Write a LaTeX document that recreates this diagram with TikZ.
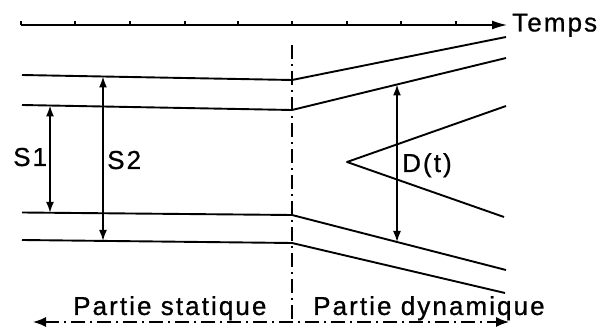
\documentclass[tikz,border=0pt]{standalone}
\usepackage{fontspec}
\setmainfont{Liberation Sans}[LetterSpace=8, FakeBold=0.8]
\usetikzlibrary{arrows.meta}
\begin{document}
\begin{tikzpicture}[x=1pt,y=-1pt,
  thick line/.style={line width=1.9pt, line join=round},
  axisline/.style={line width=1.4pt},
  dimarrow/.style={line width=1.6pt, {Latex[length=11pt,width=8pt]}-{Latex[length=11pt,width=8pt]}},
  dashdot/.style={line width=1.5pt, dash pattern=on 14pt off 5pt on 2pt off 5pt},
  lbl/.style={inner sep=0pt, anchor=base west, font=\fontsize{26}{30}\selectfont}]
\useasboundingbox (0,0) rectangle (602,328);
% coordinates
\coordinate (ax0) at (21,25);
\coordinate (ax1) at (507,25);
\coordinate (uo0) at (22,75);   \coordinate (uok) at (292,80);  \coordinate (uo1) at (506,37);
\coordinate (ui0) at (22,105);  \coordinate (uik) at (292,110); \coordinate (ui1) at (506,58);
\coordinate (li0) at (22,212.5);\coordinate (lik) at (292,215); \coordinate (li1) at (506,270);
\coordinate (lo0) at (22,240);  \coordinate (lok) at (292,243); \coordinate (lo1) at (505,293);
\coordinate (w1) at (506,106); \coordinate (wa) at (347,162); \coordinate (w2) at (504,217);
\coordinate (s1t) at (50,105.5); \coordinate (s1b) at (50,212.8);
\coordinate (s2t) at (103,76.5); \coordinate (s2b) at (103,240.9);
\coordinate (dtt) at (397,84.5); \coordinate (dtb) at (397,242);
\coordinate (vt) at (292,45); \coordinate (vb) at (292,322);
\coordinate (bl) at (33,322); \coordinate (br) at (509,322);
% time axis
\draw[axisline,-{Latex[length=15pt,width=9pt]}] (ax0) -- (ax1);
\foreach \t in {21,75,130,185,238,292,347,401,456}
  \draw[line width=1.5pt] (\t,25) -- (\t,21.5);
\node[lbl] (temps) at (512,31.5) {Temps};
% channel lines
\draw[thick line] (uo0) -- (uok) -- (uo1);
\draw[thick line] (ui0) -- (uik) -- (ui1);
\draw[thick line] (li0) -- (lik) -- (li1);
\draw[thick line] (lo0) -- (lok) -- (lo1);
\draw[thick line] (w1) -- (wa) -- (w2);
% dimension arrows
\draw[dimarrow] (s1t) -- (s1b);
\draw[dimarrow] (s2t) -- (s2b);
\draw[dimarrow] (dtt) -- (dtb);
\node[lbl] (s1) at (13,166) {S1};
\node[lbl] (s2) at (107,169) {S2};
\node[lbl] (dt) at (402,172) {D(t)};
% separation
\draw[dashdot] (vt) -- (vb);
\draw[dashdot, {Latex[length=13pt,width=10pt]}-{Latex[length=13pt,width=10pt]}] (bl) -- (br);
\node[lbl] (stat) at (73,315) {Partie statique};
\node[lbl] (dyn) at (313,315) {Partie dynamique};
\end{tikzpicture}
\end{document}
